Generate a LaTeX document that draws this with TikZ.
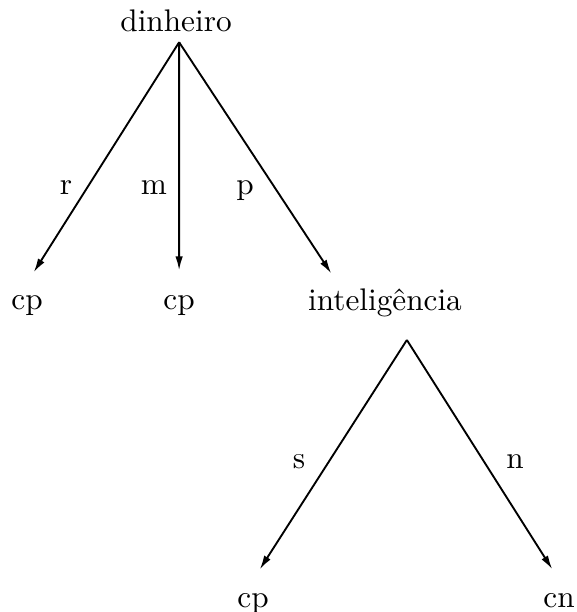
\documentclass[tikz,border=0pt]{standalone}
\usetikzlibrary{arrows.meta}
\tikzset{
  termo/.style={anchor=base, text height=1.5ex, text depth=.25ex, inner sep=2pt},
  ramo/.style={semithick, ->, shorten >=4pt},
  >={Latex[length=4.5pt,width=2.4pt]}
}
\begin{document}
\begin{tikzpicture}[x=0.32pt,y=-0.32pt]
        \useasboundingbox (0,0) rectangle (576,612);
        % primeiro nivel
        \node [termo] (din) at (176,32) {dinheiro};
        \node [termo] (cpa) at (27,310) {cp};
        \node [termo] (cpb) at (179.1,310) {cp};
        \node [termo] (int) at (385,311) {inteligência};
        \draw [ramo] ([xshift=1pt]din.south) -- (cpa.north);
        \draw [ramo] ([xshift=1pt]din.south) -- (cpb.north);
        \draw [ramo] ([xshift=1pt]din.south) -- ([xshift=-15pt]int.north);
        \node [anchor=base] (r) at (66,195) {r};
        \node [anchor=base] (m) at (154,195) {m};
        \node [anchor=base] (p) at (245,195) {p};
        % segundo nivel
        \node [termo] (cpc) at (253,607) {cp};
        \node [termo] (cnd) at (559,607) {cn};
        \draw [ramo] ([xshift=7pt,yshift=-6pt]int.south) -- (cpc.north);
        \draw [ramo] ([xshift=7pt,yshift=-6pt]int.south) -- (cnd.north);
        \node [anchor=base] (s) at (299,468) {s};
        \node [anchor=base] (n) at (515,468) {n};
    \end{tikzpicture}
\end{document}
